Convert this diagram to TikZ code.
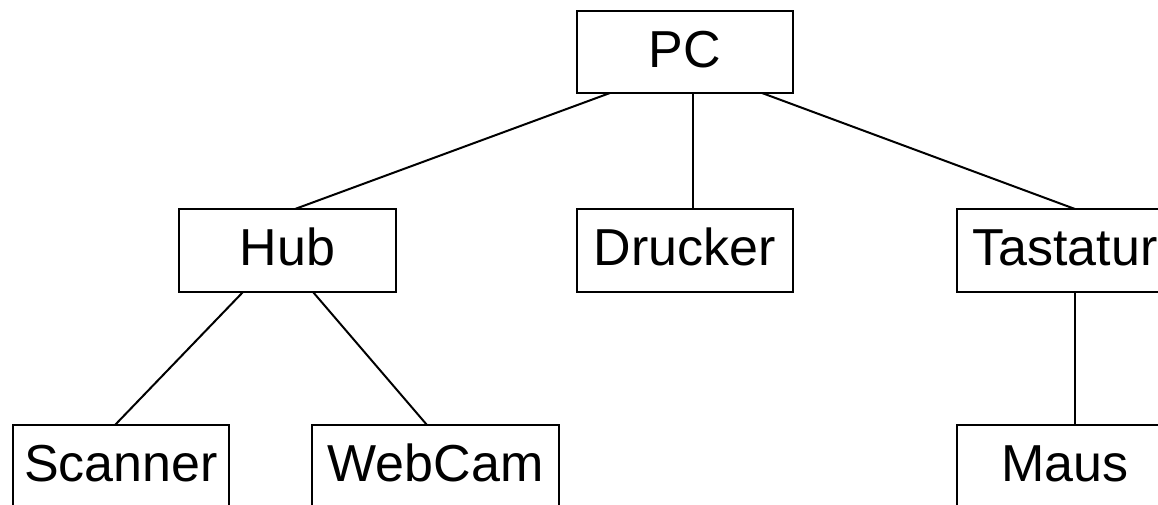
\documentclass[tikz,border=0pt]{standalone}
\usepackage{fontspec}
\setmainfont{Liberation Sans}
\begin{document}
\begin{tikzpicture}[x=1pt,y=-1pt,
  box/.style={draw,line width=2pt,inner sep=0pt,outer sep=0pt,
    minimum width=216pt,minimum height=83pt,
    text height=37pt,text depth=7pt,
    font=\fontsize{52}{52}\selectfont},
  link/.style={line width=2pt}]
\path[use as bounding box,clip] (0,0) rectangle (1158,504);
\node[box,minimum height=82pt] (PC) at (685,52) {PC};
\node[box,minimum width=217pt] (Hub) at (287.5,250.5) {Hub};
\node[box] (Drucker) at (685,250.5) {Drucker};
\node[box] (Tastatur) at (1065,250.5) {Tastatur};
\node[box] (Scanner) at (121,466.5) {Scanner};
\node[box,minimum width=247pt] (WebCam) at (435.5,466.5) {WebCam};
\node[box] (Maus) at (1065,466.5) {Maus};
\draw[link] ([xshift=-75pt]PC.south) -- ([xshift=7.5pt]Hub.north);
\draw[link] ([xshift=8pt]PC.south) -- ([xshift=8pt]Drucker.north);
\draw[link] ([xshift=77pt]PC.south) -- ([xshift=10pt]Tastatur.north);
\draw[link] ([xshift=-44.5pt]Hub.south) -- ([xshift=-6pt]Scanner.north);
\draw[link] ([xshift=25.5pt]Hub.south) -- ([xshift=-8.5pt]WebCam.north);
\draw[link] ([xshift=10pt]Tastatur.south) -- ([xshift=10pt]Maus.north);
\end{tikzpicture}
\end{document}
